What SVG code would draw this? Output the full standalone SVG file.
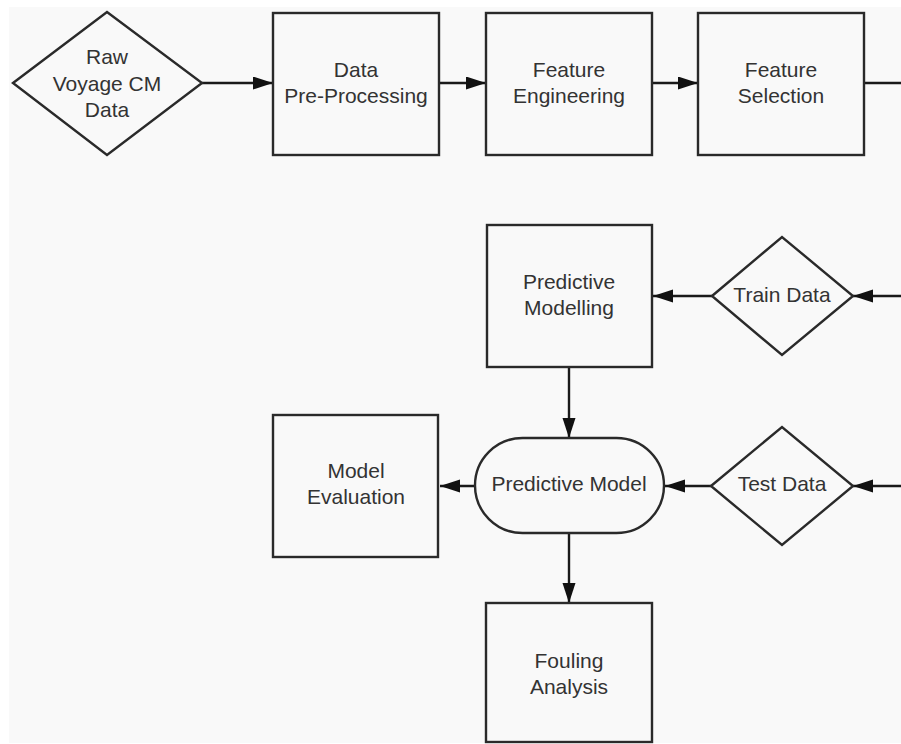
<svg xmlns="http://www.w3.org/2000/svg" width="901" height="744" viewBox="0 0 901 744">
<style>
.s{fill:none;stroke:#2a2a2a;stroke-width:2.4}
.n{fill:#f9f9f9;stroke:#2a2a2a;stroke-width:2.4}
.t{font-family:"Liberation Sans",Arial,sans-serif;font-size:21px;fill:#333;text-anchor:middle}
.c{fill:none;stroke:#1a1a1a;stroke-width:2.4}
</style>
<defs>
<marker id="ah" markerUnits="userSpaceOnUse" markerWidth="21" markerHeight="14" refX="20" refY="6.5" orient="auto">
<path d="M0,0 L20,6.5 L0,13 z" fill="#111"/>
</marker>
</defs>
<rect x="0" y="0" width="901" height="744" fill="#ffffff"/>
<rect x="9" y="7" width="892" height="736" fill="#f9f9f9"/>
<g id="connectors">
<line class="c" x1="202" y1="83" x2="273" y2="83" marker-end="url(#ah)"/>
<line class="c" x1="439" y1="83" x2="486" y2="83" marker-end="url(#ah)"/>
<line class="c" x1="652" y1="83" x2="698" y2="83" marker-end="url(#ah)"/>
<line class="c" x1="865" y1="83" x2="901" y2="83"/>
<line class="c" x1="901" y1="296" x2="853" y2="296" marker-end="url(#ah)"/>
<line class="c" x1="712" y1="296" x2="653" y2="296" marker-end="url(#ah)"/>
<line class="c" x1="569" y1="367" x2="569" y2="438" marker-end="url(#ah)"/>
<line class="c" x1="901" y1="486" x2="853" y2="486" marker-end="url(#ah)"/>
<line class="c" x1="711" y1="486" x2="665" y2="486" marker-end="url(#ah)"/>
<line class="c" x1="475" y1="486" x2="440" y2="486" marker-end="url(#ah)"/>
<line class="c" x1="569" y1="533" x2="569" y2="603" marker-end="url(#ah)"/>
</g>
<g id="raw-data">
<polygon class="n" points="13,83 107,12 202,83 107,155"/>
<text class="t" x="107" y="64">Raw</text>
<text class="t" x="107" y="90.5">Voyage CM</text>
<text class="t" x="107" y="116.5">Data</text>
</g>
<g id="preprocessing">
<rect class="n" x="273" y="13" width="166" height="142"/>
<text class="t" x="356" y="77">Data</text>
<text class="t" x="356" y="103">Pre-Processing</text>
</g>
<g id="feature-engineering">
<rect class="n" x="486" y="13" width="166" height="142"/>
<text class="t" x="569" y="77">Feature</text>
<text class="t" x="569" y="103">Engineering</text>
</g>
<g id="feature-selection">
<rect class="n" x="698" y="13" width="166" height="142"/>
<text class="t" x="781" y="77">Feature</text>
<text class="t" x="781" y="103">Selection</text>
</g>
<g id="predictive-modelling">
<rect class="n" x="487" y="225" width="165" height="142"/>
<text class="t" x="569" y="289">Predictive</text>
<text class="t" x="569" y="315">Modelling</text>
</g>
<g id="train-data">
<polygon class="n" points="712,296 782,237 853,296 782,355"/>
<text class="t" x="782" y="302">Train Data</text>
</g>
<g id="predictive-model">
<rect class="n" x="475" y="438" width="189" height="95" rx="47.5" ry="47.5"/>
<text class="t" x="569" y="491">Predictive Model</text>
</g>
<g id="test-data">
<polygon class="n" points="711,486 782,427 853,486 782,545"/>
<text class="t" x="782" y="491">Test Data</text>
</g>
<g id="model-evaluation">
<rect class="n" x="273" y="415" width="165" height="142"/>
<text class="t" x="356" y="478">Model</text>
<text class="t" x="356" y="504">Evaluation</text>
</g>
<g id="fouling-analysis">
<rect class="n" x="486" y="603" width="166" height="139"/>
<text class="t" x="569" y="668">Fouling</text>
<text class="t" x="569" y="694">Analysis</text>
</g>
</svg>
